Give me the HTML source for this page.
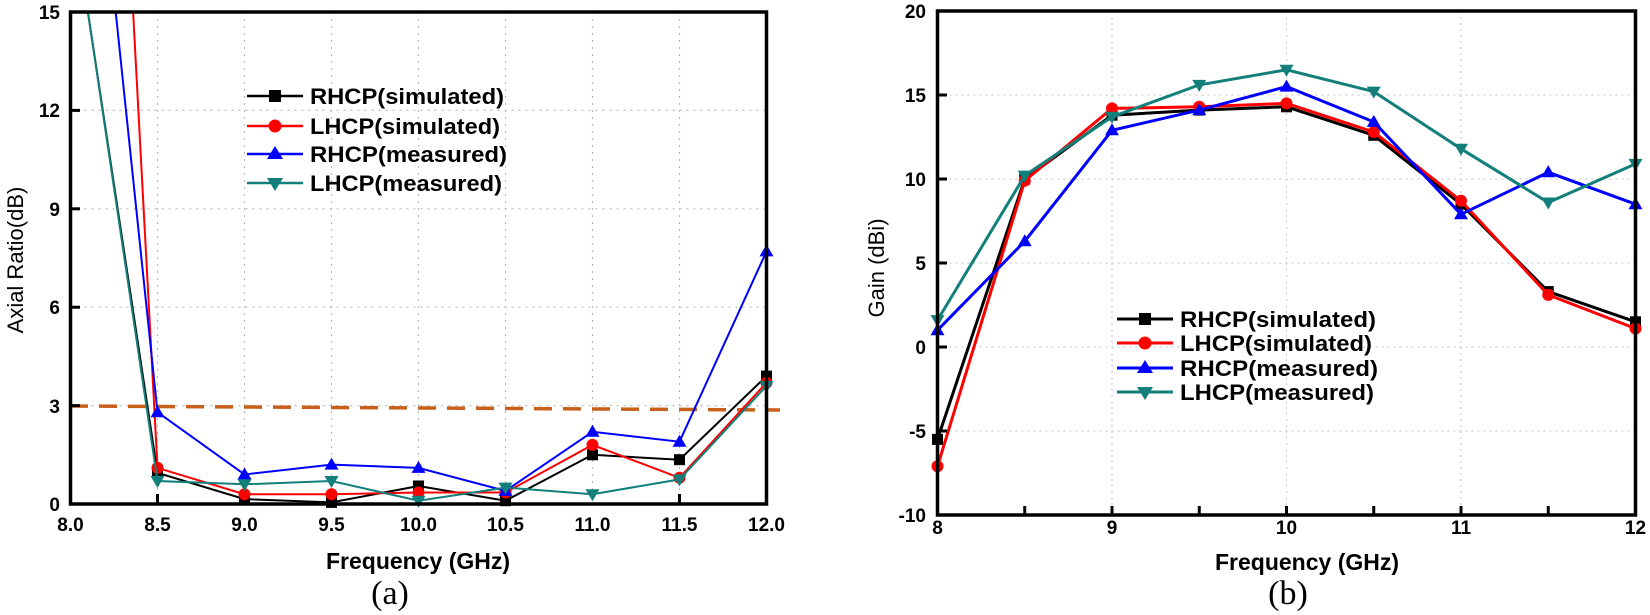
<!DOCTYPE html>
<html><head><meta charset="utf-8"><style>
html,body{margin:0;padding:0;background:#fff;}
svg{display:block;}
text{font-family:"Liberation Sans",Arial,sans-serif;}
.tk{font-weight:bold;font-size:19px;}
.lg{font-weight:bold;font-size:22px;}
</style></head><body>
<svg width="1650" height="615" viewBox="0 0 1650 615" xmlns="http://www.w3.org/2000/svg">
<defs>
<marker id="sq" markerUnits="userSpaceOnUse" markerWidth="14" markerHeight="14" refX="7" refY="7"><rect x="1.5" y="1.5" width="11" height="11" fill="#000"/></marker>
<marker id="ci" markerUnits="userSpaceOnUse" markerWidth="14" markerHeight="14" refX="7" refY="7"><circle cx="7" cy="7" r="6" fill="#f00"/></marker>
<marker id="tu" markerUnits="userSpaceOnUse" markerWidth="16" markerHeight="16" refX="8" refY="8"><polygon points="8,1 15,13 1,13" fill="#00f"/></marker>
<marker id="td" markerUnits="userSpaceOnUse" markerWidth="16" markerHeight="16" refX="8" refY="8"><polygon points="1,3 15,3 8,15" fill="#127f7a"/></marker>
</defs>
<rect width="1650" height="615" fill="#fff"/>

<!-- LEFT CHART -->
<g stroke="#bbb" stroke-width="1.2" stroke-dasharray="2,5">
<line x1="157.5" y1="12" x2="157.5" y2="504"/><line x1="244.5" y1="12" x2="244.5" y2="504"/>
<line x1="331.5" y1="12" x2="331.5" y2="504"/><line x1="418.5" y1="12" x2="418.5" y2="504"/>
<line x1="505.5" y1="12" x2="505.5" y2="504"/><line x1="592.5" y1="12" x2="592.5" y2="504"/>
<line x1="679.5" y1="12" x2="679.5" y2="504"/>
<line x1="70.5" y1="110.4" x2="766.5" y2="110.4"/><line x1="70.5" y1="208.8" x2="766.5" y2="208.8"/>
<line x1="70.5" y1="307.2" x2="766.5" y2="307.2"/><line x1="70.5" y1="405.6" x2="766.5" y2="405.6"/>
</g>
<line x1="70" y1="406" x2="780" y2="410" stroke="#c8601a" stroke-width="3.5" stroke-dasharray="18,11"/>
<g fill="none" stroke-width="2">
<polyline stroke="#000" marker-mid="url(#sq)" marker-end="url(#sq)" points="87.9,12 157.5,472.8 244.5,499.1 331.5,502.4 418.5,486 505.5,500.7 592.5,454.8 679.5,459.7 766.5,376.1"/>
<polyline stroke="#f00" marker-mid="url(#ci)" marker-end="url(#ci)" points="133.1,12 157.5,467.9 244.5,494.2 331.5,494.2 418.5,492.5 505.5,492.5 592.5,444.9 679.5,477.8 766.5,382.6"/>
<polyline stroke="#00f" marker-mid="url(#tu)" marker-end="url(#tu)" points="115.7,12 157.5,412.2 244.5,474.5 331.5,464.6 418.5,467.9 505.5,490.9 592.5,431.8 679.5,441.7 766.5,251.4"/>
<polyline stroke="#127f7a" marker-mid="url(#td)" marker-end="url(#td)" points="87.9,12 157.5,481 244.5,484.3 331.5,481 418.5,500.7 505.5,487.6 592.5,494.2 679.5,479.4 766.5,385.9"/>
</g>
<rect x="70.5" y="12" width="696" height="492" fill="none" stroke="#000" stroke-width="3.5"/>
<g stroke="#000" stroke-width="3">
<line x1="157.5" y1="504" x2="157.5" y2="494"/><line x1="679.5" y1="504" x2="679.5" y2="494"/>
<line x1="70.5" y1="110.4" x2="80" y2="110.4"/><line x1="70.5" y1="208.8" x2="80" y2="208.8"/><line x1="70.5" y1="307.2" x2="80" y2="307.2"/><line x1="70.5" y1="405.6" x2="80" y2="405.6"/>
</g>
<g class="tk" text-anchor="end">
<text x="60" y="19">15</text><text x="60" y="117">12</text><text x="60" y="216">9</text>
<text x="60" y="314">6</text><text x="60" y="413">3</text><text x="60" y="511">0</text>
</g>
<g class="tk" text-anchor="middle">
<text x="70.5" y="531">8.0</text><text x="157.5" y="531">8.5</text><text x="244.5" y="531">9.0</text>
<text x="331.5" y="531">9.5</text><text x="418.5" y="531">10.0</text><text x="505.5" y="531">10.5</text>
<text x="592.5" y="531">11.0</text><text x="679.5" y="531">11.5</text><text x="766.5" y="531">12.0</text>
</g>
<text x="418" y="569" text-anchor="middle" font-weight="bold" font-size="23">Frequency (GHz)</text>
<text x="390" y="604" text-anchor="middle" font-size="34" style="font-family:'Liberation Serif',serif">(a)</text>
<text transform="translate(23,260) rotate(-90)" text-anchor="middle" font-size="22">Axial Ratio(dB)</text>
<g stroke-width="2.5">
<line x1="247" y1="96" x2="303" y2="96" stroke="#000"/><rect x="269" y="90" width="12" height="12" fill="#000"/>
<line x1="247" y1="126" x2="303" y2="126" stroke="#f00"/><circle cx="275" cy="126" r="6.5" fill="#f00"/>
<line x1="247" y1="154" x2="303" y2="154" stroke="#00f"/><polygon points="275,146 283,159 267,159" fill="#00f"/>
<line x1="247" y1="183" x2="303" y2="183" stroke="#127f7a"/><polygon points="267,178 283,178 275,191" fill="#127f7a"/>
</g>
<g class="lg">
<text x="310" y="104" textLength="194" lengthAdjust="spacingAndGlyphs">RHCP(simulated)</text>
<text x="310" y="134" textLength="190" lengthAdjust="spacingAndGlyphs">LHCP(simulated)</text>
<text x="310" y="162" textLength="197" lengthAdjust="spacingAndGlyphs">RHCP(measured)</text>
<text x="310" y="191" textLength="192" lengthAdjust="spacingAndGlyphs">LHCP(measured)</text>
</g>

<!-- RIGHT CHART -->
<g stroke="#ccc" stroke-width="1.2" stroke-dasharray="2,4">
<line x1="1112" y1="11" x2="1112" y2="515"/><line x1="1286.5" y1="11" x2="1286.5" y2="515"/><line x1="1461" y1="11" x2="1461" y2="515"/>
<line x1="937.5" y1="95" x2="1635.5" y2="95"/><line x1="937.5" y1="179" x2="1635.5" y2="179"/>
<line x1="937.5" y1="263" x2="1635.5" y2="263"/><line x1="937.5" y1="347" x2="1635.5" y2="347"/>
<line x1="937.5" y1="431" x2="1635.5" y2="431"/>
</g>
<g fill="none" stroke-width="3">
<polyline stroke="#000" marker-start="url(#sq)" marker-mid="url(#sq)" marker-end="url(#sq)" points="937.5,439.4 1024.75,179 1112,115.2 1199.25,110.1 1286.5,106.8 1373.75,135.3 1461,204.2 1548.25,291.6 1635.5,321.8"/>
<polyline stroke="#f00" marker-start="url(#ci)" marker-mid="url(#ci)" marker-end="url(#ci)" points="937.5,466.3 1024.75,180.7 1112,108.4 1199.25,106.8 1286.5,103.4 1373.75,132 1461,200.8 1548.25,294.9 1635.5,328.5"/>
<polyline stroke="#00f" marker-start="url(#tu)" marker-mid="url(#tu)" marker-end="url(#tu)" points="937.5,330.2 1024.75,241.2 1112,130.3 1199.25,110.1 1286.5,86.6 1373.75,121.9 1461,214.3 1548.25,172.3 1635.5,204.2"/>
<polyline stroke="#127f7a" marker-start="url(#td)" marker-mid="url(#td)" marker-end="url(#td)" points="937.5,320.1 1024.75,175.6 1112,116.8 1199.25,84.9 1286.5,69.8 1373.75,91.6 1461,148.8 1548.25,202.5 1635.5,163.9"/>
</g>
<rect x="937.5" y="11" width="698" height="504" fill="none" stroke="#000" stroke-width="3.5"/>
<g stroke="#000" stroke-width="3">
<line x1="1024.75" y1="515" x2="1024.75" y2="506"/><line x1="1112" y1="515" x2="1112" y2="506"/><line x1="1199.25" y1="515" x2="1199.25" y2="506"/>
<line x1="1286.5" y1="515" x2="1286.5" y2="506"/><line x1="1373.75" y1="515" x2="1373.75" y2="506"/><line x1="1461" y1="515" x2="1461" y2="506"/><line x1="1548.25" y1="515" x2="1548.25" y2="506"/>
<line x1="937.5" y1="95" x2="947" y2="95"/><line x1="937.5" y1="179" x2="947" y2="179"/><line x1="937.5" y1="263" x2="947" y2="263"/><line x1="937.5" y1="347" x2="947" y2="347"/><line x1="937.5" y1="431" x2="947" y2="431"/>
</g>
<g class="tk" text-anchor="end">
<text x="926" y="18">20</text><text x="926" y="102">15</text><text x="926" y="186">10</text>
<text x="926" y="270">5</text><text x="926" y="354">0</text><text x="926" y="438">-5</text><text x="926" y="522">-10</text>
</g>
<g class="tk" text-anchor="middle">
<text x="937.5" y="534">8</text><text x="1112" y="534">9</text><text x="1286.5" y="534">10</text>
<text x="1461" y="534">11</text><text x="1635.5" y="534">12</text>
</g>
<text x="1307" y="570" text-anchor="middle" font-weight="bold" font-size="23">Frequency (GHz)</text>
<text x="1288" y="604" text-anchor="middle" font-size="34" style="font-family:'Liberation Serif',serif">(b)</text>
<text transform="translate(884,268) rotate(-90)" text-anchor="middle" font-size="22">Gain  (dBi)</text>
<g stroke-width="3">
<line x1="1117" y1="319" x2="1173" y2="319" stroke="#000"/><rect x="1139" y="313" width="12" height="12" fill="#000"/>
<line x1="1117" y1="343" x2="1173" y2="343" stroke="#f00"/><circle cx="1145" cy="343" r="6.5" fill="#f00"/>
<line x1="1117" y1="368" x2="1173" y2="368" stroke="#00f"/><polygon points="1145,360 1153,373 1137,373" fill="#00f"/>
<line x1="1117" y1="392" x2="1173" y2="392" stroke="#127f7a"/><polygon points="1137,387 1153,387 1145,400" fill="#127f7a"/>
</g>
<g class="lg">
<text x="1180" y="327" textLength="196" lengthAdjust="spacingAndGlyphs">RHCP(simulated)</text>
<text x="1180" y="351" textLength="192" lengthAdjust="spacingAndGlyphs">LHCP(simulated)</text>
<text x="1180" y="376" textLength="198" lengthAdjust="spacingAndGlyphs">RHCP(measured)</text>
<text x="1180" y="400" textLength="194" lengthAdjust="spacingAndGlyphs">LHCP(measured)</text>
</g>
</svg>
</body></html>
